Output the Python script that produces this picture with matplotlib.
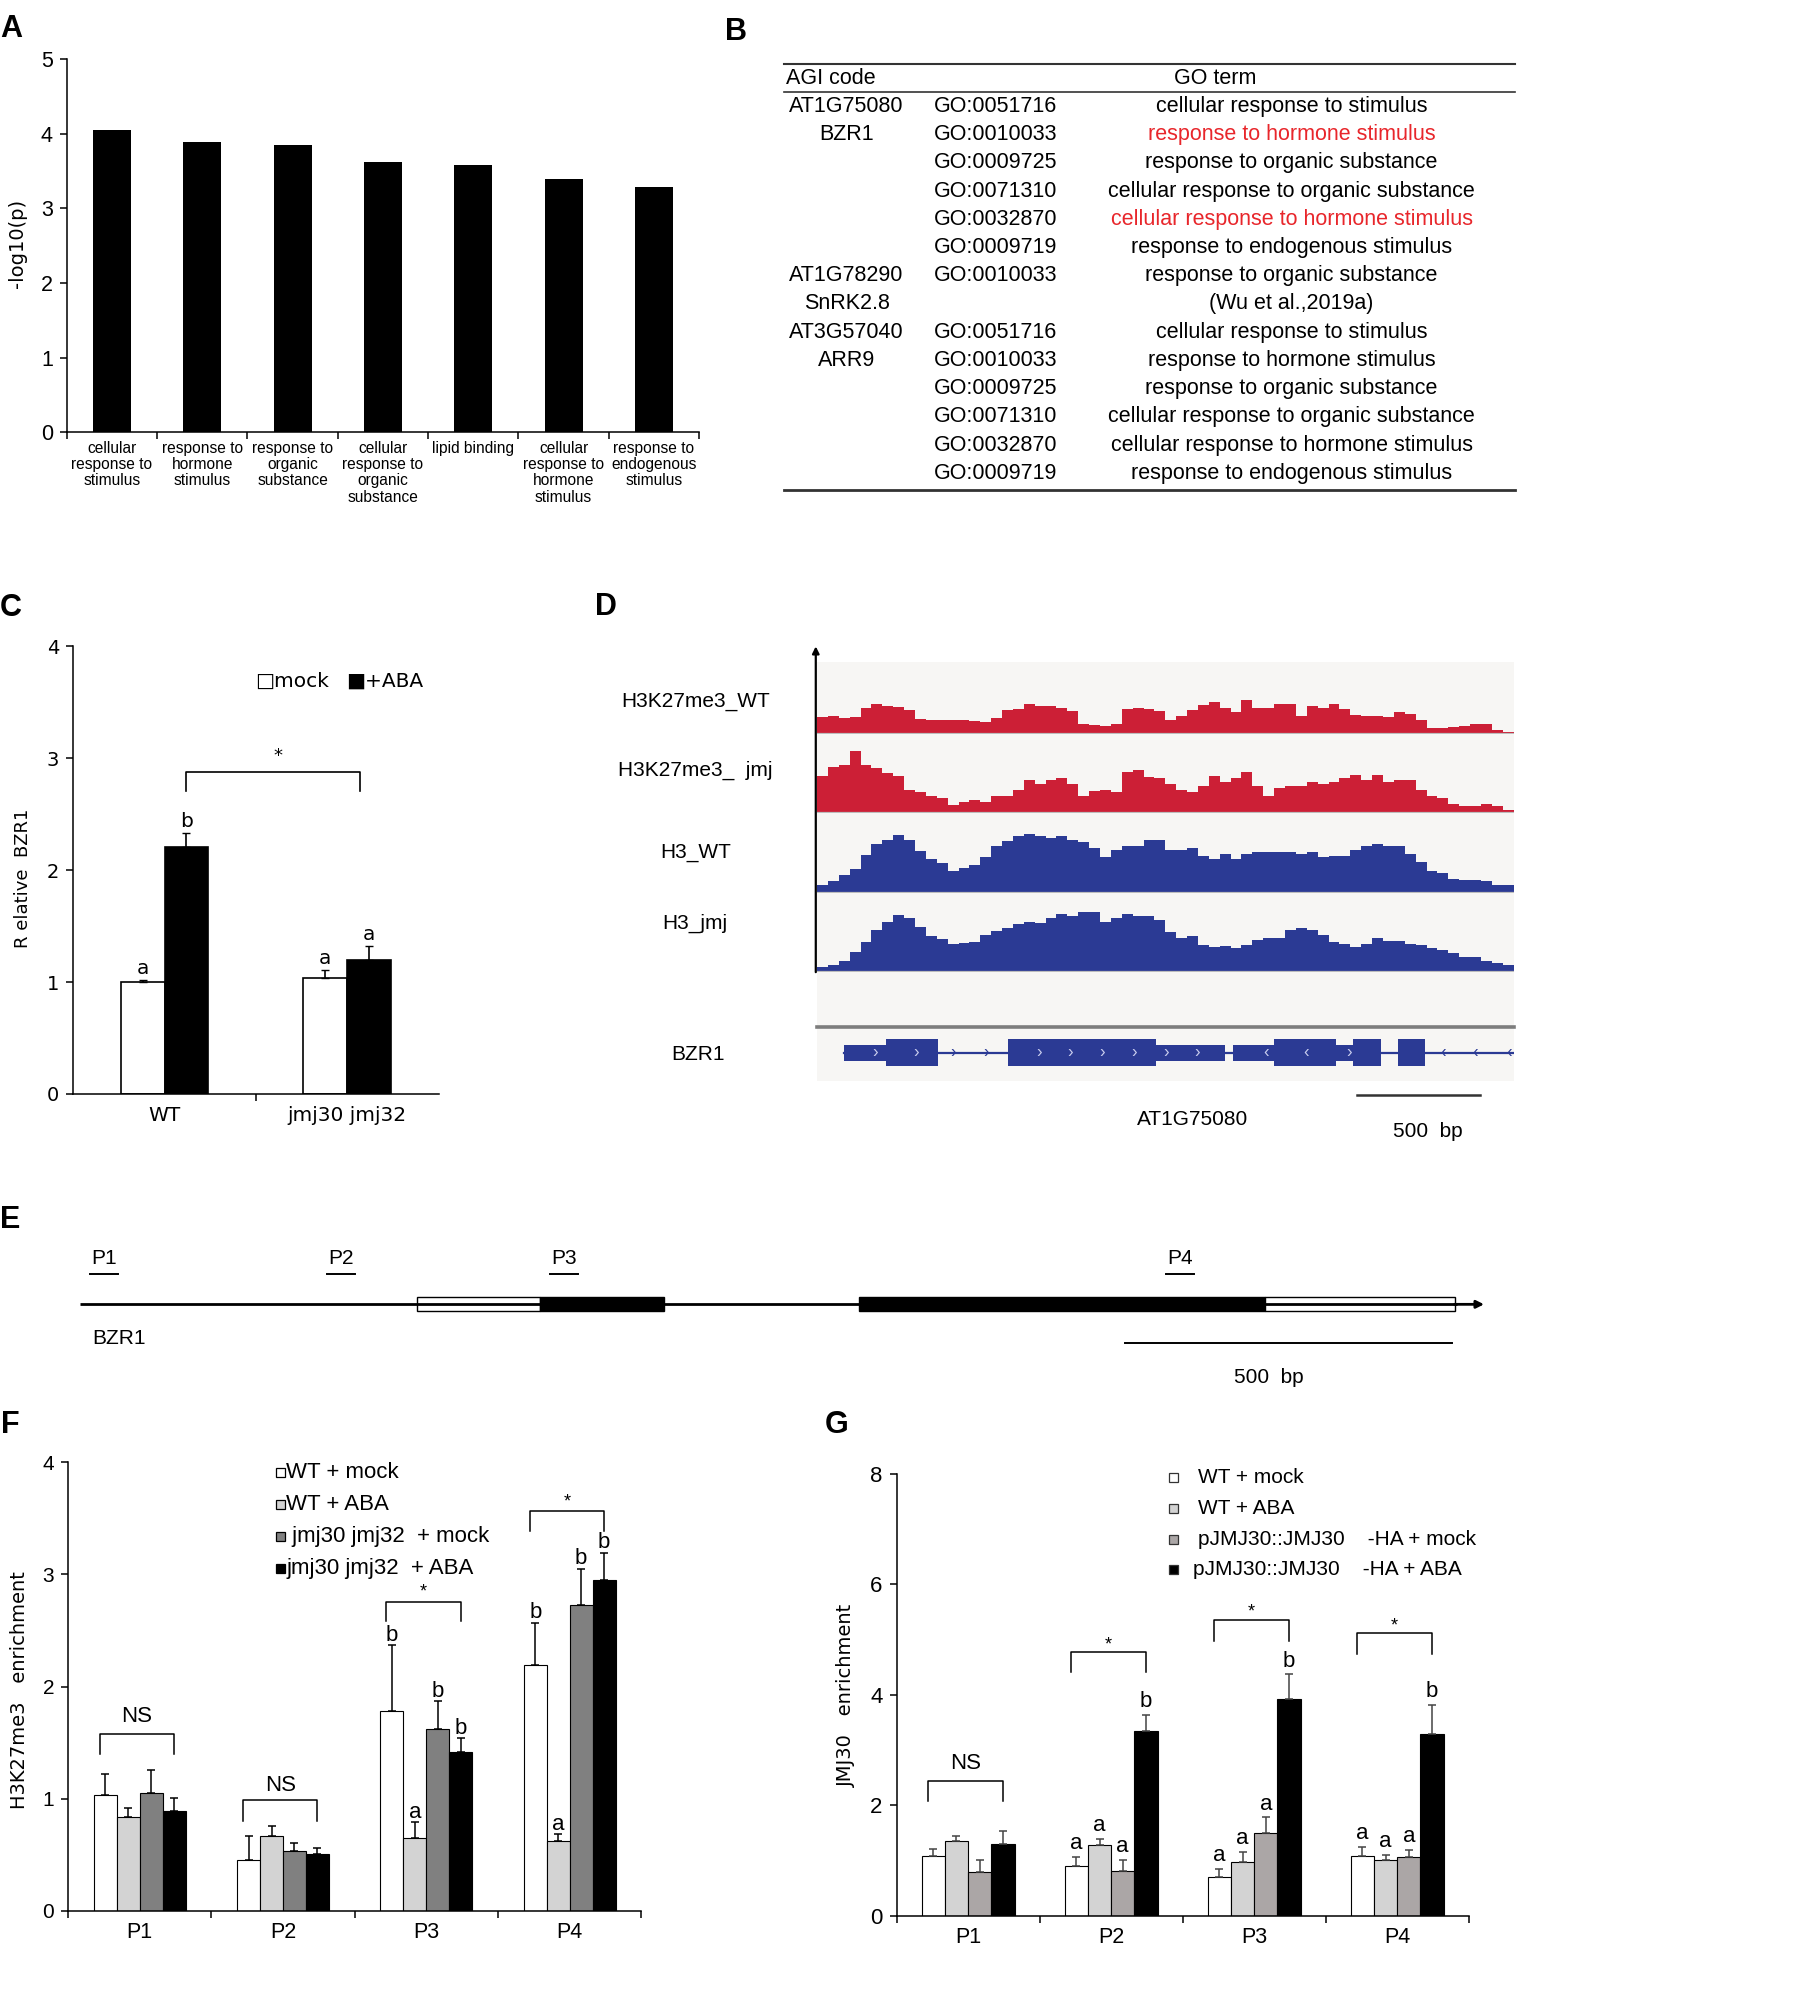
import numpy as np
import matplotlib

matplotlib.use("Agg")
import matplotlib.pyplot as plt
from matplotlib.patches import Rectangle

plt.rcParams["font.family"] = ["Liberation Sans", "DejaVu Sans"]
WIDE = "DejaVu Sans"

# layout is measured on the 1415x1568 preview, y grows downwards
W, H = 1415.0, 1568.0

# ---------------- data ----------------
# A: GO enrichment
go_labels = ["cellular\nresponse to\nstimulus", "response to\nhormone\nstimulus",
             "response to\norganic\nsubstance", "cellular\nresponse to\norganic\nsubstance",
             "lipid binding", "cellular\nresponse to\nhormone\nstimulus",
             "response to\nendogenous\nstimulus"]
go_scores = [4.05, 3.89, 3.85, 3.62, 3.58, 3.39, 3.29]

# B: table
tab_agi = ["AT1G75080", "BZR1", "", "", "", "", "AT1G78290", "SnRK2.8",
           "AT3G57040", "ARR9", "", "", "", ""]
tab_go = ["GO:0051716", "GO:0010033", "GO:0009725", "GO:0071310", "GO:0032870",
          "GO:0009719", "GO:0010033", "", "GO:0051716", "GO:0010033", "GO:0009725",
          "GO:0071310", "GO:0032870", "GO:0009719"]
tab_term = ["cellular response to stimulus", "response to hormone stimulus",
            "response to organic substance", "cellular response to organic substance",
            "cellular response to hormone stimulus", "response to endogenous stimulus",
            "response to organic substance", "(Wu et al.,2019a)",
            "cellular response to stimulus", "response to hormone stimulus",
            "response to organic substance", "cellular response to organic substance",
            "cellular response to hormone stimulus", "response to endogenous stimulus"]
tab_red = [1, 4]

# C: relative BZR1 expression
c_groups = ["WT", "jmj30 jmj32"]
c_mock = [1.00, 1.04]
c_mock_err = [0.02, 0.07]
c_aba = [2.21, 1.20]
c_aba_err = [0.12, 0.12]
c_let_mock = ["a", "a"]
c_let_aba = ["b", "a"]

# D: coverage tracks (64 equal bins across the locus)
h3k27_wt = [49, 53, 47, 49, 77, 89, 83, 80, 71, 45, 40, 42, 42, 41, 38, 36, 48, 71, 75, 88,
            83, 82, 77, 67, 29, 26, 24, 30, 73, 77, 74, 67, 40, 54, 70, 85, 94, 77, 65, 100,
            78, 77, 89, 89, 53, 83, 77, 89, 74, 57, 53, 53, 50, 65, 60, 41, 17, 18, 19, 24,
            30, 30, 11, 6]
h3k27_jmj = [112, 138, 145, 185, 145, 136, 120, 110, 68, 62, 50, 44, 24, 33, 40, 33, 50, 50,
             70, 98, 88, 98, 104, 86, 50, 65, 68, 62, 122, 128, 109, 104, 86, 68, 63, 80, 110,
             92, 104, 122, 80, 50, 76, 80, 80, 92, 88, 92, 104, 115, 98, 115, 92, 98, 98, 68,
             50, 45, 26, 22, 22, 27, 22, 10]
h3_wt = [24, 35, 52, 70, 112, 147, 157, 172, 157, 126, 100, 88, 64, 73, 82, 106, 139, 154, 170,
         175, 170, 164, 169, 158, 152, 133, 106, 129, 139, 139, 158, 158, 127, 129, 134, 109,
         100, 117, 100, 116, 121, 121, 121, 122, 116, 122, 106, 111, 111, 127, 140, 146, 140,
         140, 116, 91, 64, 58, 40, 38, 38, 36, 22, 22]
h3_jmj = [14, 20, 32, 62, 92, 126, 150, 172, 162, 137, 110, 100, 85, 88, 92, 112, 124, 134,
          145, 151, 148, 164, 174, 169, 180, 180, 151, 164, 174, 169, 170, 156, 120, 104, 110,
          82, 77, 80, 74, 82, 97, 104, 104, 127, 134, 126, 113, 92, 86, 76, 86, 102, 94, 95,
          86, 82, 74, 68, 56, 44, 44, 34, 26, 20]
track_names = ["H3K27me3_WT", "H3K27me3_  jmj", "H3_WT", "H3_jmj"]
bin_size = 24
gene_thin = [(59, 152), (748, 900), (917, 1007), (1145, 1182)]
gene_thick = [(152, 267), (420, 748), (1007, 1145), (1182, 1244), (1282, 1340)]
gene_span = (59, 1536)
chev_right = [127, 219, 300, 372, 489, 559, 629, 699, 769, 839, 1174]
chev_left = [990, 1079, 1380, 1450, 1527]

# F: H3K27me3 ChIP
sites = ["P1", "P2", "P3", "P4"]
f_series = ["WT + mock", "WT + ABA", " jmj30 jmj32  + mock", "jmj30 jmj32  + ABA"]
f_vals = [[1.03, 0.45, 1.78, 2.19], [0.84, 0.67, 0.65, 0.62],
          [1.05, 0.535, 1.625, 2.73], [0.89, 0.51, 1.415, 2.95]]
f_errs = [[0.19, 0.22, 0.59, 0.38], [0.08, 0.09, 0.14, 0.065],
          [0.21, 0.075, 0.245, 0.32], [0.12, 0.05, 0.125, 0.24]]
f_letters = [["", "", "b", "b"], ["", "", "a", "a"], ["", "", "b", "b"], ["", "", "b", "b"]]
f_marks = ["NS", "NS", "*", "*"]
f_mark_y = [1.73, 1.12, 2.84, 3.64]
f_br_top = [1.58, 0.985, 2.757, 3.567]
f_br_leg = [1.40, 0.80, 2.58, 3.385]

# G: JMJ30 ChIP
g_series = ["WT + mock", "WT + ABA", "pJMJ30::JMJ30    -HA + mock", "pJMJ30::JMJ30    -HA + ABA"]
g_vals = [[1.08, 0.91, 0.705, 1.08], [1.365, 1.29, 0.97, 1.02],
          [0.79, 0.82, 1.507, 1.074], [1.30, 3.345, 3.93, 3.30]]
g_errs = [[0.13, 0.16, 0.15, 0.175], [0.09, 0.10, 0.195, 0.085],
          [0.225, 0.195, 0.28, 0.123], [0.23, 0.295, 0.44, 0.52]]
g_letters = [["", "a", "a", "a"], ["", "a", "a", "a"], ["", "a", "a", "a"], ["", "b", "b", "b"]]
g_marks = ["NS", "*", "*", "*"]
g_mark_y = [2.76, 4.90, 5.50, 5.25]
g_br_top = [2.44, 4.78, 5.35, 5.12]
g_br_leg = [2.08, 4.41, 4.98, 4.73]

F_COLORS = ["white", "#d3d3d3", "#808080", "black"]
G_COLORS = ["white", "#d3d3d3", "#aba6a6", "black"]
RED, BLUE, BG = "#cc1f36", "#2b3a94", "#f7f6f4"


def rect(l, t, r, b):
    return [l / W, 1 - b / H, (r - l) / W, (b - t) / H]


def style_axes(ax, ticksize, family=None):
    for s in ("top", "right"):
        ax.spines[s].set_visible(False)
    for s in ("left", "bottom"):
        ax.spines[s].set_linewidth(1.1)
    ax.tick_params(which="major", direction="out", length=5, width=1.1,
                   labelsize=ticksize, pad=5)
    ax.tick_params(axis="x", which="minor", length=0, labelsize=ticksize, pad=7)
    if family:
        for lab in ax.get_yticklabels() + ax.get_xticklabels(minor=True):
            lab.set_family(family)


def grouped_bars(ax, vals, errs, colors, w, ecol):
    n = len(vals)
    x = np.arange(len(vals[0]))
    pos = []
    for j, (v, e, c) in enumerate(zip(vals, errs, colors)):
        xs = x + (j - (n - 1) / 2) * w
        ax.bar(xs, v, w, color=c, edgecolor="black", linewidth=0.8, zorder=2)
        ax.errorbar(xs, v, yerr=[np.zeros(len(e)), e], fmt="none", ecolor=ecol,
                    elinewidth=1.1, capsize=3, capthick=1.1, zorder=3)
        pos.append(xs)
    return pos


def brackets(ax, pos, top, leg, marks, mark_y):
    for i in range(len(marks)):
        x0, x1 = pos[0][i] - 0.04, pos[-1][i]
        ax.plot([x0, x0, x1, x1], [leg[i], top[i], top[i], leg[i]], color="black", lw=1.1)
        ax.text((x0 + x1) / 2, mark_y[i], marks[i], ha="center", va="center",
                fontsize=13 if marks[i] == "*" else 16)


fig = plt.figure(figsize=(18.15, 20.11), dpi=100)

# ---------------- A ----------------
axA = fig.add_axes(rect(52, 46, 545, 337))
xa = np.arange(len(go_scores))
axA.bar(xa, go_scores, 0.42, color="black")
axA.set_xlim(-0.5, len(go_scores) - 0.5)
axA.set_ylim(0, 5)
axA.set_xticks(np.arange(-0.5, len(go_scores), 1))
axA.set_xticklabels([])
axA.set_xticks(xa, go_labels, minor=True)
axA.set_yticks(range(6))
style_axes(axA, 15.5)
axA.tick_params(axis="x", which="minor", labelsize=11.2, pad=6)
for lab in axA.get_xticklabels(minor=True):
    lab.set_linespacing(1.12)
fig.text(14 / W, 1 - 190 / H, "-log10(p)", rotation=90, ha="center", va="center",
         fontsize=14, family=WIDE)

# ---------------- C ----------------
axC = fig.add_axes(rect(57, 504, 342, 853))
xc = np.arange(len(c_groups))
bw = 0.24
axC.bar(xc - bw / 2, c_mock, bw, color="white", edgecolor="black", linewidth=1.2, zorder=2)
axC.bar(xc + bw / 2, c_aba, bw, color="black", edgecolor="black", linewidth=1.2, zorder=2)
axC.errorbar(xc - bw / 2, c_mock, yerr=[np.zeros(2), c_mock_err], fmt="none", ecolor="black",
             elinewidth=1.2, capsize=3, zorder=3)
axC.errorbar(xc + bw / 2, c_aba, yerr=[np.zeros(2), c_aba_err], fmt="none", ecolor="black",
             elinewidth=1.2, capsize=3, zorder=3)
for i in range(len(c_groups)):
    axC.text(xc[i] - bw / 2, c_mock[i] + c_mock_err[i] + 0.05, c_let_mock[i], ha="center",
             va="baseline", fontsize=14.5, family=WIDE)
    axC.text(xc[i] + bw / 2, c_aba[i] + c_aba_err[i] + 0.06, c_let_aba[i], ha="center",
             va="baseline", fontsize=14.5, family=WIDE)
axC.plot([xc[0] + bw / 2, xc[0] + bw / 2, xc[1] + bw / 2 - 0.05, xc[1] + bw / 2 - 0.05],
         [2.71, 2.88, 2.88, 2.71], color="black", lw=1.2)
axC.text((xc[0] + xc[1]) / 2 + bw / 2, 3.02, "*", ha="center", va="center", fontsize=13,
         family=WIDE)
axC.set_xlim(-0.5, 1.5)
axC.set_ylim(0, 4)
axC.set_xticks([0.5])
axC.set_xticklabels([])
axC.set_xticks(xc, c_groups, minor=True)
axC.set_yticks(range(5))
style_axes(axC, 14, WIDE)
axC.tick_params(axis="x", which="minor", labelsize=14.5, pad=9)
fig.text(18 / W, 1 - 685 / H, "R elative  BZR1", rotation=90, ha="center", va="center",
         fontsize=13, family=WIDE)

# ---------------- D ----------------
axDbg = fig.add_axes(rect(637, 516, 1180, 843))
axDbg.set_facecolor(BG)
axDbg.set_xticks([])
axDbg.set_yticks([])
for s in axDbg.spines.values():
    s.set_visible(False)

track_rows = [(516, 572), (574, 634), (636, 696), (698, 758)]
track_label_y = [547, 601, 665, 720]
track_data = [h3k27_wt, h3k27_jmj, h3_wt, h3_jmj]
track_cols = [RED, RED, BLUE, BLUE]
edges = np.arange(len(h3_wt) + 1) * bin_size
for (t, b), vals, col in zip(track_rows, track_data, track_cols):
    ax = fig.add_axes(rect(637, t, 1180, b))
    ax.patch.set_alpha(0)
    ax.stairs(vals, edges, fill=True, color=col)
    ax.axhline(0, color="#bdbdbd", lw=1.6)
    ax.set_xlim(edges[0], edges[-1])
    ax.set_ylim(0, (b - t) * 3.85)
    ax.axis("off")

axGene = fig.add_axes(rect(637, 806, 1180, 836))
axGene.patch.set_alpha(0)
axGene.set_xlim(edges[0], edges[-1])
axGene.set_ylim(-15, 15)
axGene.axis("off")
axGene.plot(gene_span, [0, 0], color=BLUE, lw=1.6)
for a, b in gene_thin:
    axGene.add_patch(Rectangle((a, -6), b - a, 12, color=BLUE, lw=0))
for a, b in gene_thick:
    axGene.add_patch(Rectangle((a, -10.5), b - a, 21, color=BLUE, lw=0))


def on_exon(x):
    return any(a <= x <= b for a, b in gene_thin + gene_thick)


for x in chev_right:
    axGene.text(x, 0, "\u203a", ha="center", va="center", fontsize=12,
                color="#c9cdee" if on_exon(x) else BLUE)
for x in chev_left:
    axGene.text(x, 0, "\u2039", ha="center", va="center", fontsize=12,
                color="#c9cdee" if on_exon(x) else BLUE)

# ---------------- F ----------------
axF = fig.add_axes(rect(53, 1140, 500, 1490))
fpos = grouped_bars(axF, f_vals, f_errs, F_COLORS, 0.16, "black")
for j in range(len(f_vals)):
    for i in range(len(sites)):
        if f_letters[j][i]:
            axF.text(fpos[j][i], f_vals[j][i] + f_errs[j][i] + 0.04, f_letters[j][i],
                     ha="center", va="baseline", fontsize=16)
brackets(axF, fpos, f_br_top, f_br_leg, f_marks, f_mark_y)
axF.set_xlim(-0.5, 3.5)
axF.set_ylim(0, 4)
axF.set_xticks(np.arange(-0.5, 4, 1))
axF.set_xticklabels([])
axF.set_xticks(range(4), sites, minor=True)
axF.set_yticks(range(5))
style_axes(axF, 15)
axF.tick_params(axis="x", which="minor", labelsize=15.5, pad=8)
fig.text(15 / W, 1 - 1318 / H, "H3K27me3   enrichment", rotation=90, ha="center",
         va="center", fontsize=14, family=WIDE)

# ---------------- G ----------------
axGg = fig.add_axes(rect(699, 1149, 1145, 1494))
gpos = grouped_bars(axGg, g_vals, g_errs, G_COLORS, 0.1625, "#444444")
for j in range(len(g_vals)):
    for i in range(len(sites)):
        if g_letters[j][i]:
            axGg.text(gpos[j][i], g_vals[j][i] + g_errs[j][i] + 0.14, g_letters[j][i],
                      ha="center", va="baseline", fontsize=16)
brackets(axGg, gpos, g_br_top, g_br_leg, g_marks, g_mark_y)
axGg.set_xlim(-0.5, 3.5)
axGg.set_ylim(0, 8)
axGg.set_xticks(np.arange(-0.5, 4, 1))
axGg.set_xticklabels([])
axGg.set_xticks(range(4), sites, minor=True)
axGg.set_yticks(range(0, 9, 2))
style_axes(axGg, 16)
axGg.tick_params(axis="x", which="minor", labelsize=15.5, pad=8)
fig.text(660 / W, 1 - 1322 / H, "JMJ30   enrichment", rotation=90, ha="center",
         va="center", fontsize=14, family=WIDE)

# ---------------- overlay in preview pixel coordinates ----------------
axO = fig.add_axes([0, 0, 1, 1], zorder=10)
axO.set_xlim(0, W)
axO.set_ylim(H, 0)
axO.axis("off")
axO.patch.set_alpha(0)

# panel letters
for lab, x, y in [("A", 0, 23), ("B", 565, 25), ("C", 0, 474), ("D", 464, 473),
                  ("E", 0, 951), ("F", 1, 1111), ("G", 643, 1111)]:
    axO.text(x, y, lab, ha="left", va="center", fontsize=22, fontweight="bold")

# B table
axO.plot([611, 1181], [50, 50], color="#333333", lw=1.5)
axO.plot([611, 1181], [72, 72], color="#333333", lw=1.2)
axO.plot([611, 1181], [382, 382], color="#333333", lw=2.0)
axO.text(613, 61, "AGI code", ha="left", va="center", fontsize=15.5)
axO.text(947, 61, "GO term", ha="center", va="center", fontsize=15.5)
for k in range(len(tab_term)):
    y = 83 + 22 * k
    axO.text(660, y, tab_agi[k], ha="center", va="center", fontsize=15.5)
    axO.text(776, y, tab_go[k], ha="center", va="center", fontsize=15.5)
    axO.text(1007, y, tab_term[k], ha="center", va="center", fontsize=15.5,
             color="#e8262b" if k in tab_red else "black")

# C legend
axO.text(199, 531, "\u25a1mock", ha="left", va="center", fontsize=14.5, family=WIDE)
axO.text(270, 531, "\u25a0+ABA", ha="left", va="center", fontsize=14.5, family=WIDE)

# D decorations
axO.annotate("", xy=(636, 504), xytext=(636, 758),
             arrowprops=dict(arrowstyle="-|>", lw=1.6, color="black", mutation_scale=10,
                             shrinkA=0, shrinkB=0))
axO.plot([637, 1180], [801, 801], color="#7d7d7d", lw=2.6)
for name, y in zip(track_names, track_label_y):
    axO.text(542, y, name, ha="center", va="center", fontsize=15)
axO.text(544, 822, "BZR1", ha="center", va="center", fontsize=15)
axO.plot([1058, 1154], [854, 854], color="#333333", lw=1.8)
axO.text(930, 873, "AT1G75080", ha="center", va="center", fontsize=15)
axO.text(1113, 882, "500  bp", ha="center", va="center", fontsize=15)

# E gene diagram
axO.plot([62, 1136], [1017, 1017], color="black", lw=2.0, solid_capstyle="butt")
axO.add_patch(Rectangle((325, 1011.5), 96, 11, facecolor="white", edgecolor="black", lw=1.0))
axO.add_patch(Rectangle((421, 1011.5), 97, 11, facecolor="black", edgecolor="black", lw=1.0))
axO.add_patch(Rectangle((670, 1011.5), 316, 11, facecolor="black", edgecolor="black", lw=1.0))
axO.add_patch(Rectangle((986, 1011.5), 148, 11, facecolor="white", edgecolor="black", lw=1.0))
axO.annotate("", xy=(1157, 1017), xytext=(1134, 1017),
             arrowprops=dict(arrowstyle="-|>", lw=2.0, color="black", mutation_scale=11,
                             shrinkA=0, shrinkB=0))
for name, x in zip(sites, [81, 266, 440, 920]):
    axO.text(x, 981, name, ha="center", va="center", fontsize=15)
    axO.plot([x - 11, x + 11], [993, 993], color="black", lw=1.4)
axO.text(93, 1044, "BZR1", ha="center", va="center", fontsize=15)
axO.plot([877, 1132], [1047, 1047], color="black", lw=1.4)
axO.text(989, 1074, "500  bp", ha="center", va="center", fontsize=15)

# F legend
for k, (name, col) in enumerate(zip(f_series, F_COLORS)):
    y = 1148 + 25 * k
    axO.add_patch(Rectangle((215, y - 3.5), 7, 7, facecolor=col, edgecolor="black", lw=0.9))
    axO.text(223, y, name, ha="left", va="center", fontsize=16)

# G legend
for k, (name, col) in enumerate(zip(g_series, G_COLORS)):
    y = 1152 + 24 * k
    axO.add_patch(Rectangle((911, y - 3.5), 7, 7, facecolor=col, edgecolor="#333333", lw=0.9))
    axO.text(930 if k == 3 else 934, y, name, ha="left", va="center", fontsize=15)

fig.savefig("out.png", dpi=100)
